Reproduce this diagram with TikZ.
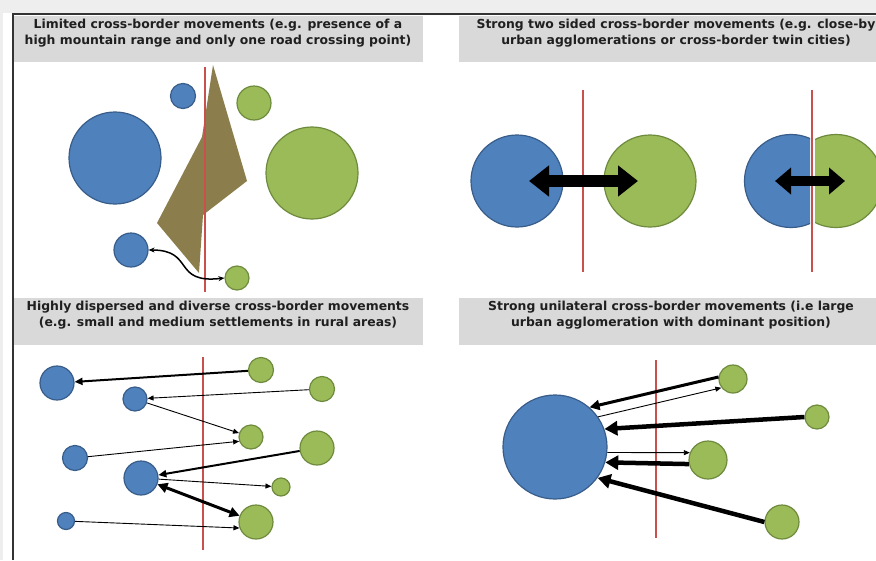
\documentclass[tikz,border=0pt]{standalone}
\usepackage{fontspec}
\setmainfont{DejaVu Sans}
\usetikzlibrary{arrows.meta}
\definecolor{bfill}{RGB}{79,129,189}
\definecolor{bdraw}{RGB}{56,93,138}
\definecolor{gfill}{RGB}{155,187,89}
\definecolor{gdraw}{RGB}{110,139,61}
\definecolor{redl}{RGB}{200,80,77}
\definecolor{hgray}{RGB}{217,217,217}
\definecolor{mount}{RGB}{140,126,76}
\definecolor{outgray}{RGB}{238,238,238}
\tikzset{
  bc/.style={circle,fill=bfill,draw=bdraw,line width=1.2pt,inner sep=0pt,minimum size=#1},
  gc/.style={circle,fill=gfill,draw=gdraw,line width=1.2pt,inner sep=0pt,minimum size=#1},
  border/.style={draw=redl,line width=2pt},
  hbox/.style={fill=hgray},
  htext/.style={font=\fontsize{12.4}{15.5}\selectfont\bfseries,align=center,anchor=north,inner sep=0pt,text=black!88},
  thin/.style={line width=0.9pt,-{Triangle[length=6pt,width=5pt]}},
  mid/.style={line width=2pt,-{Triangle[length=8pt,width=7pt]}},
  fat/.style={line width=4.5pt,-{Triangle[length=13pt,width=14pt]}},
  block/.style={line width=12pt,{Triangle[length=20pt,width=30pt]}-{Triangle[length=20pt,width=30pt]}},
  blocksm/.style={line width=10pt,{Triangle[length=16pt,width=26pt]}-{Triangle[length=16pt,width=26pt]}},
}
\begin{document}
\begin{tikzpicture}[x=1pt,y=-1pt]
\useasboundingbox (0,0) rectangle (876,560);
\fill[white] (0,0) rectangle (876,560);
\fill[outgray] (0,0) rectangle (876,13);
\fill[outgray] (0,0) rectangle (3,560);
% frame
\draw[line width=2pt,black!80] (12.5,560) -- (12.5,14) -- (876,14);
% headers
\fill[hbox] (14,16) rectangle (423,62);
\fill[hbox] (459,16) rectangle (876,62);
\fill[hbox] (14,298) rectangle (423,345);
\fill[hbox] (459,298) rectangle (876,345);
\node[htext] (h1) at (218,19) {Limited cross-border movements (e.g. presence of a\\high mountain range and only one road crossing point)};
\node[htext] (h2) at (676,19) {Strong two sided cross-border movements (e.g. close-by\\urban agglomerations or cross-border twin cities)};
\node[htext] (h3) at (218,301) {Highly dispersed and diverse cross-border movements\\(e.g. small and medium settlements in rural areas)};
\node[htext] (h4) at (671,301) {Strong unilateral cross-border movements (i.e large\\urban agglomeration with dominant position)};

% ---------- panel 1
\fill[mount] (213,65) -- (247,181) -- (203,215) -- (199,273) -- (157,223) -- (202,137) -- cycle;
\draw[border] (205,67) -- (205,292);
\node[bc=25pt] (p1b1) at (183,96) {};
\node[gc=34pt] (p1g1) at (254,103) {};
\node[bc=92pt] (p1b2) at (115,158) {};
\node[gc=92pt] (p1g2) at (312,173) {};
\node[bc=34pt] (p1b3) at (131,250) {};
\node[gc=24pt] (p1g3) at (237,278) {};
\draw[line width=1.5pt,{Stealth[length=6pt,width=5pt]}-{Stealth[length=6pt,width=5pt]}] (p1b3.east) .. controls (195,250) and (172,284) .. (p1g3.west);

% ---------- panel 2
\draw[border] (583,90) -- (583,272);
\node[bc=92pt] (p2b) at (517,181) {};
\node[gc=92pt] (p2g) at (650,181) {};
\coordinate (p2l) at (529,181);
\coordinate (p2r) at (638,181);
\draw[block] (p2l) -- (p2r);
\begin{scope}
\clip (700,100) rectangle (810,270);
\node[bc=93pt] (p2hb) at (791,181) {};
\end{scope}
\begin{scope}
\clip (815,100) rectangle (900,270);
\node[gc=93pt] (p2hg) at (836,181) {};
\end{scope}
\draw[border] (812,90) -- (812,272);
\coordinate (p2l2) at (775,181);
\coordinate (p2r2) at (845,181);
\draw[blocksm] (p2l2) -- (p2r2);

% ---------- panel 3
\draw[border] (203,357) -- (203,550);
\node[bc=34pt] (b1) at (57,383) {};
\node[bc=24pt] (b2) at (135,399) {};
\node[bc=25pt] (b3) at (75,458) {};
\node[bc=34pt] (b4) at (141,478) {};
\node[bc=17pt] (b5) at (66,521) {};
\node[gc=25pt] (g1) at (261,370) {};
\node[gc=25pt] (g2) at (322,389) {};
\node[gc=24pt] (g3) at (251,437) {};
\node[gc=34pt] (g4) at (317,448) {};
\node[gc=18pt] (g5) at (281,487) {};
\node[gc=34pt] (g6) at (256,522) {};
\draw[mid] (g1) -- (b1);
\draw[thin] (g2) -- (b2);
\draw[thin] (b2) -- (g3);
\draw[thin] (b3) -- (g3.200);
\draw[mid] (g4) -- (b4);
\draw[thin] (b4) -- (g5);
\draw[line width=3pt,{Triangle[length=10pt,width=10pt]}-{Triangle[length=10pt,width=10pt]}] (b4) -- (g6);
\draw[thin] (b5) -- (g6.200);

% ---------- panel 4
\draw[border] (656,360) -- (656,538);
\node[bc=104pt] (bb) at (555,447) {};
\node[gc=28pt] (q1) at (733,379) {};
\node[gc=24pt] (q2) at (817,417) {};
\node[gc=38pt] (q3) at (708,460) {};
\node[gc=34pt] (q4) at (782,522) {};
\draw[line width=3pt,-{Triangle[length=10pt,width=10pt]}] (q1.172) -- (bb.49);
\draw[thin] (bb.35) -- (q1.217);
\draw[fat] (q2.west) -- (bb.20);
\draw[thin] (bb.354) -- (q3.158);
\draw[fat] (q3.192) -- (bb.343);
\draw[fat] (q4.180) -- (bb.324);
\end{tikzpicture}
\end{document}
